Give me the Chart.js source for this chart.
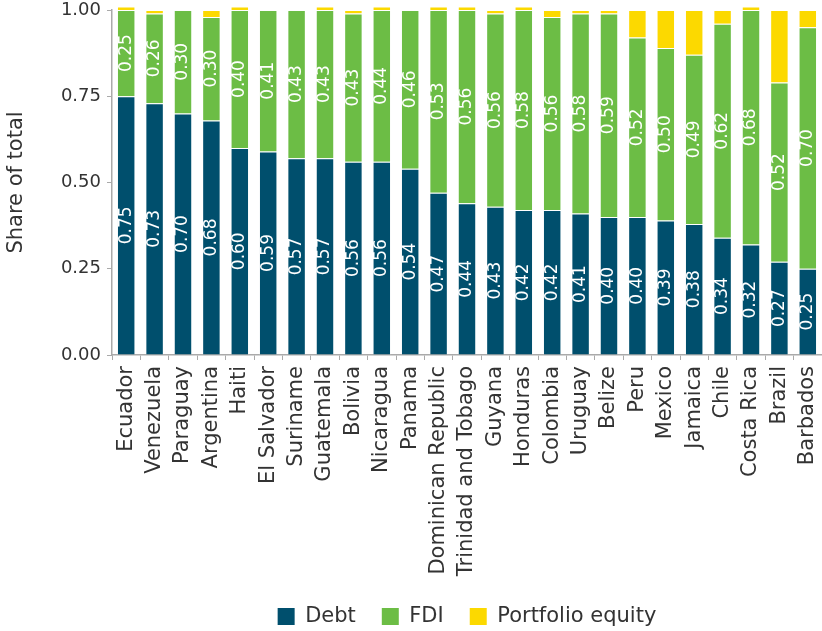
<!DOCTYPE html>
<html>
<head>
<meta charset="utf-8">
<script src="https://cdn.jsdelivr.net/npm/chart.js@4"></script>
<style>
    html, body { margin: 0; padding: 0; background: #fff; overflow: hidden; }
    #wrap { width: 822px; height: 631px; }
</style>
</head>
<body>
<div id="wrap"><canvas id="chart"></canvas></div>
<script>
// Data
const countries = [
    "Ecuador", "Venezuela", "Paraguay", "Argentina", "Haiti", "El Salvador",
    "Suriname", "Guatemala", "Bolivia", "Nicaragua", "Panama",
    "Dominican Republic", "Trinidad and Tobago", "Guyana", "Honduras",
    "Colombia", "Uruguay", "Belize", "Peru", "Mexico", "Jamaica", "Chile",
    "Costa Rica", "Brazil", "Barbados",
];
const debt = [
    0.75, 0.73, 0.70, 0.68, 0.60, 0.59, 0.57, 0.57, 0.56, 0.56, 0.54, 0.47,
    0.44, 0.43, 0.42, 0.42, 0.41, 0.40, 0.40, 0.39, 0.38, 0.34, 0.32, 0.27, 0.25,
];
const fdi = [
    0.25, 0.26, 0.30, 0.30, 0.40, 0.41, 0.43, 0.43, 0.43, 0.44, 0.46, 0.53,
    0.56, 0.56, 0.58, 0.56, 0.58, 0.59, 0.52, 0.50, 0.49, 0.62, 0.68, 0.52, 0.70,
];
const portfolio = [
    0.01, 0.01, 0.0, 0.02, 0.01, 0.0, 0.0, 0.01, 0.01, 0.01, 0.0, 0.01,
    0.01, 0.01, 0.01, 0.02, 0.01, 0.01, 0.08, 0.11, 0.13, 0.04, 0.01, 0.21, 0.05,
];
const yTicks = [0, 0.25, 0.5, 0.75, 1.0];

const FONT = "'DejaVu Sans', sans-serif";
const TEXT = "#333333";
const AXIS = "#aaaaaa";

// White rotated value labels centred in the Debt and FDI segments
const barLabels = {
    id: "barLabels",
    afterDatasetsDraw(chart) {
        const ctx = chart.ctx;
        [0, 1].forEach((i) => {
            const meta = chart.getDatasetMeta(i);
            const values = chart.data.datasets[i].data;
            meta.data.forEach((el, j) => {
                const { x, y, base } = el.getProps(["x", "y", "base"], true);
                ctx.save();
                ctx.translate(x, (y + base) / 2);
                ctx.rotate(-Math.PI / 2);
                ctx.fillStyle = "#ffffff";
                ctx.font = "17px " + FONT;
                ctx.textAlign = "center";
                ctx.textBaseline = "middle";
                ctx.fillText(values[j].toFixed(2), 0, 0);
                ctx.restore();
            });
        });
    },
};

const barStyle = {
    barPercentage: 0.65,
    categoryPercentage: 1,
    borderWidth: 1,
    borderColor: "rgba(255,255,255,0.3)",
    clip: false,
};

new Chart(document.getElementById("chart"), {
    type: "bar",
    data: {
        labels: countries,
        datasets: [
            { label: "Debt", data: debt, backgroundColor: "#004f6d", ...barStyle },
            { label: "FDI", data: fdi, backgroundColor: "#6cbd45", ...barStyle },
            { label: "Portfolio equity", data: portfolio, backgroundColor: "#fcd900", ...barStyle },
        ],
    },
    options: {
        responsive: true,
        maintainAspectRatio: false,
        animation: false,
        layout: {
            padding: { top: 10, right: -3, bottom: -6, left: 0 },
        },
        scales: {
            x: {
                stacked: true,
                border: { color: AXIS, width: 1.5 },
                grid: {
                    offset: true,
                    drawOnChartArea: false,
                    drawTicks: true,
                    tickLength: 5,
                    color: AXIS,
                },
                ticks: {
                    autoSkip: false,
                    minRotation: 90,
                    maxRotation: 90,
                    padding: 6,
                    color: TEXT,
                    font: { family: FONT, size: 21 },
                },
                afterFit: (scale) => {
                    scale.height = 225;
                    scale.paddingLeft = 0;
                    scale.paddingRight = 0;
                },
            },
            y: {
                stacked: true,
                min: 0,
                max: 1,
                border: { color: AXIS, width: 1.5 },
                grid: {
                    drawOnChartArea: false,
                    drawTicks: true,
                    tickLength: 5,
                    color: AXIS,
                },
                afterBuildTicks: (scale) => {
                    scale.ticks = yTicks.map((v) => ({ value: v }));
                },
                ticks: {
                    color: TEXT,
                    padding: 6,
                    font: { family: FONT, size: 18 },
                    callback: (value) => Number(value).toFixed(2),
                },
                title: {
                    display: true,
                    text: "Share of total",
                    color: TEXT,
                    font: { family: FONT, size: 21 },
                    padding: { top: 4, bottom: 0 },
                },
                afterFit: (scale) => {
                    scale.width = 112;
                    scale.paddingTop = 0;
                    scale.paddingBottom = 0;
                },
            },
        },
        plugins: {
            legend: {
                position: "bottom",
                fullSize: false,
                labels: {
                    boxWidth: 17,
                    boxHeight: 17,
                    padding: 26,
                    color: TEXT,
                    font: { family: FONT, size: 21 },
                    generateLabels: (c) =>
                        c.data.datasets.map((ds, i) => ({
                            text: ds.label,
                            fillStyle: ds.backgroundColor,
                            strokeStyle: ds.backgroundColor,
                            lineWidth: 0,
                            fontColor: TEXT,
                            datasetIndex: i,
                        })),
                },
            },
            tooltip: { enabled: false },
        },
    },
    plugins: [barLabels],
});
</script>
</body>
</html>
